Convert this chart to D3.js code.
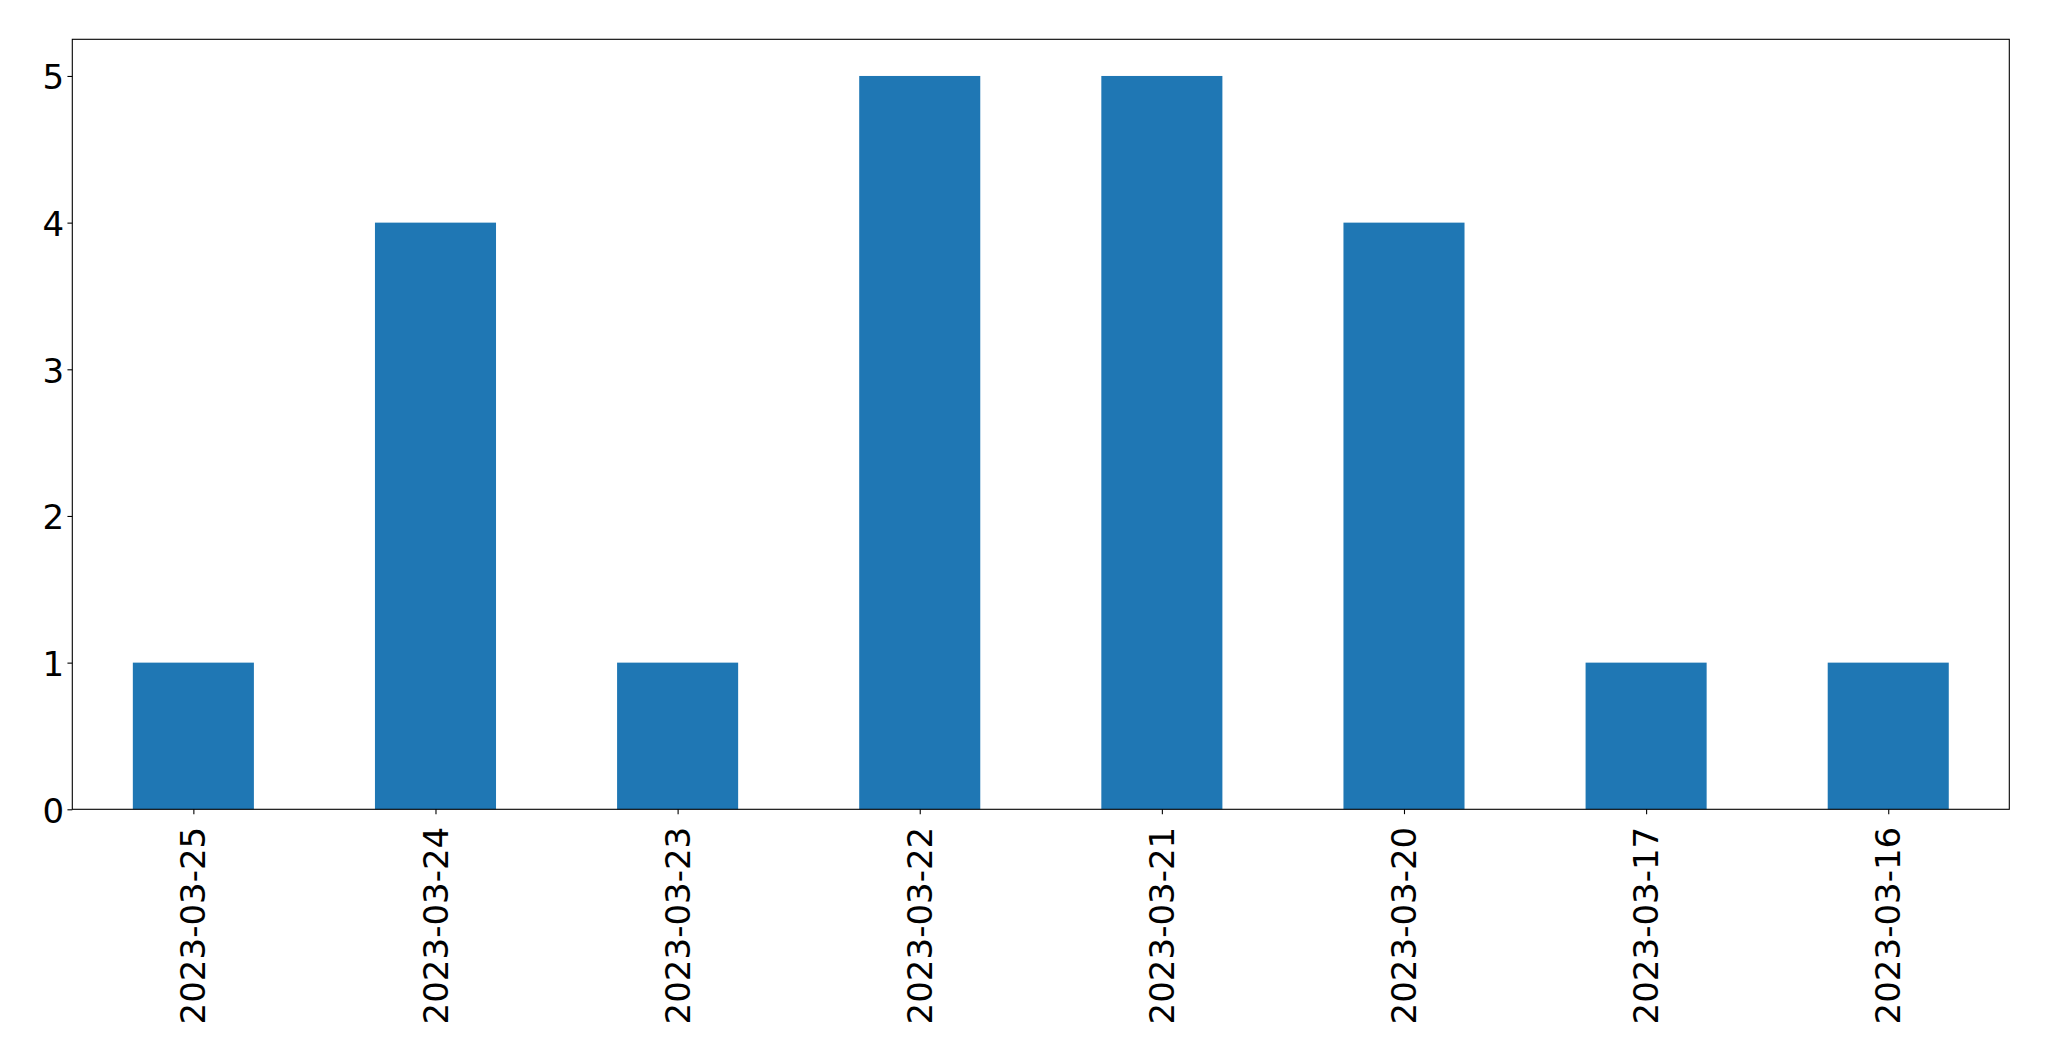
<!DOCTYPE html>
<html>
<head>
<meta charset="utf-8">
<script src="https://cdn.jsdelivr.net/npm/d3@7"></script>
<style>
  html, body { margin: 0; padding: 0; background: #fff; }
  svg { display: block; }
</style>
</head>
<body>
<svg id="chart" width="2049" height="1061"></svg>
<script>
const categories = ["2023-03-25", "2023-03-24", "2023-03-23", "2023-03-22", "2023-03-21", "2023-03-20", "2023-03-17", "2023-03-16"];
const values = [1, 4, 1, 5, 5, 4, 1, 1];
const yTicks = [0, 1, 2, 3, 4, 5];

const plotL = 72.3, plotR = 2009.3, plotT = 39.3, plotB = 809.3;
const fontSize = 34;
const tickLen = 4.86;

const svg = d3.select("#chart");

const x = d3.scaleLinear().domain([-0.5, categories.length - 0.5]).range([plotL, plotR]);
const y = d3.scaleLinear().domain([0, 5.25]).range([plotB, plotT]);
const barW = 0.5;

svg.append("g").selectAll("rect").data(values).join("rect")
  .attr("x", (d, i) => x(i - barW / 2))
  .attr("width", (d, i) => x(i + barW / 2) - x(i - barW / 2))
  .attr("y", d => y(d))
  .attr("height", d => y(0) - y(d))
  .attr("fill", "#1f77b4");

// frame
svg.append("rect")
  .attr("x", plotL).attr("y", plotT)
  .attr("width", plotR - plotL).attr("height", plotB - plotT)
  .attr("fill", "none").attr("stroke", "#000").attr("stroke-width", 1.1);

// y axis
const yAxis = d3.axisLeft(y).tickValues(yTicks).tickFormat(d3.format("d"))
  .tickSize(tickLen).tickPadding(3.4);
const gy = svg.append("g").attr("transform", `translate(${plotL},0)`).call(yAxis)
  .attr("font-family", null).attr("font-size", null);
gy.select(".domain").remove();
gy.selectAll(".tick line").attr("stroke", "#000").attr("stroke-width", 1.1);
gy.selectAll(".tick text")
  .style("font-size", fontSize + "px")
  .style("font-family", "'DejaVu Sans'")
  .style("fill", "#000")
  .attr("dy", "0.38em");

// x axis
const xBand = d3.scalePoint().domain(categories).range([x(0), x(categories.length - 1)]);
const xAxis = d3.axisBottom(xBand).tickSize(tickLen).tickPadding(5);
const gx = svg.append("g").attr("transform", `translate(0,${plotB})`).call(xAxis)
  .attr("font-family", null).attr("font-size", null);
gx.select(".domain").remove();
gx.selectAll(".tick line").attr("stroke", "#000").attr("stroke-width", 1.1);
gx.selectAll(".tick text")
  .style("font-size", fontSize + "px")
  .style("font-family", "'DejaVu Sans'")
  .style("fill", "#000")
  .attr("text-anchor", "end")
  .attr("x", 0)
  .attr("y", 0)
  .attr("dy", "0.34em")
  .attr("transform", "translate(0,17.5) rotate(-90)");
</script>
</body>
</html>
